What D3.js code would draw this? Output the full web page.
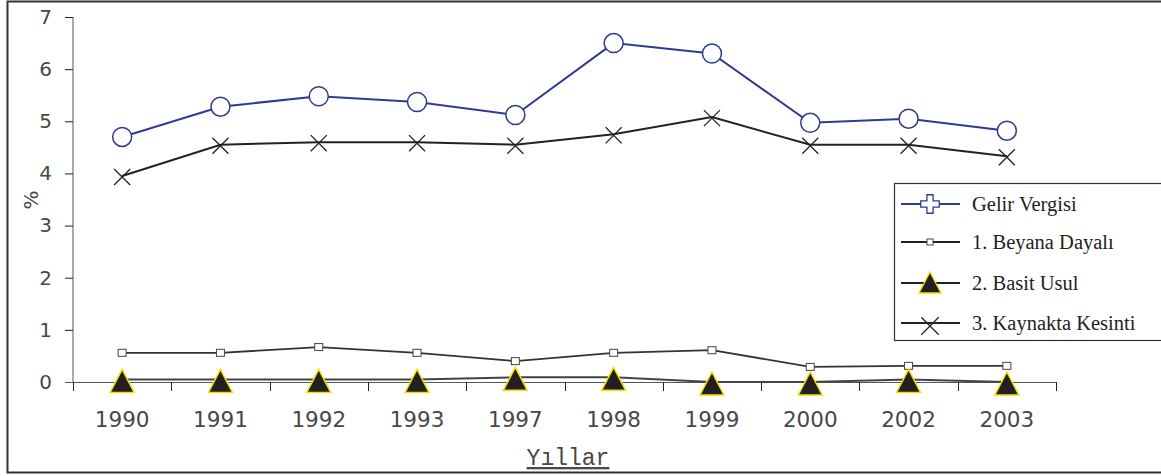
<!DOCTYPE html>
<html>
<head>
<meta charset="utf-8">
<script src="https://cdn.jsdelivr.net/npm/d3@7"></script>
<style>
  html, body { margin: 0; padding: 0; background: #fff; }
  svg { display: block; }
</style>
</head>
<body>
<svg id="chart" width="1161" height="476"></svg>
<script>
// Years on the category axis
const years = ["1990", "1991", "1992", "1993", "1997", "1998", "1999", "2000", "2002", "2003"];
// Series (%)
const gelirVergisi   = [4.70, 5.28, 5.48, 5.37, 5.12, 6.50, 6.30, 4.97, 5.05, 4.82];
const beyanaDayali   = [0.56, 0.56, 0.67, 0.56, 0.40, 0.56, 0.61, 0.29, 0.31, 0.31];
const basitUsul      = [0.05, 0.05, 0.05, 0.05, 0.09, 0.09, 0.00, 0.00, 0.05, 0.00];
const kaynaktaKesinti= [3.95, 4.55, 4.60, 4.60, 4.55, 4.75, 5.08, 4.55, 4.55, 4.33];
const yTicks = [0, 1, 2, 3, 4, 5, 6, 7];
const seriesNames = ["Gelir Vergisi", "1. Beyana Dayalı", "2. Basit Usul", "3. Kaynakta Kesinti"];

const svg = d3.select("#chart");
const axisFont = "DejaVu Sans, sans-serif";
const axisInk = "#484848";

// Frame around the whole chart
svg.append("rect")
  .attr("x", 7.5).attr("y", 1.5)
  .attr("width", 1160).attr("height", 471)
  .attr("fill", "none").attr("stroke", "#333").attr("stroke-width", 2);

const x = d3.scaleBand().domain(years).range([73, 1056]);
const y = d3.scaleLinear().domain([0, 7]).range([382, 17]);
const cx = d => x(d) + x.bandwidth() / 2;

// Y axis
const yAxis = svg.append("g").attr("transform", "translate(73,0)")
  .call(d3.axisLeft(y).tickValues(yTicks).tickSize(8).tickPadding(13).tickFormat(d3.format("d")));
yAxis.select(".domain").attr("stroke", "#aaa").attr("stroke-width", 2).attr("d", "M0,17V382");
yAxis.selectAll(".tick line").attr("stroke", "#222");
yAxis.selectAll(".tick text")
  .attr("font-family", axisFont).attr("font-size", 20).attr("fill", axisInk);

// X axis: labels at band centres, ticks at band boundaries
const xAxis = svg.append("g").attr("transform", "translate(0,382)")
  .call(d3.axisBottom(x).tickSize(0).tickPadding(30));
xAxis.select(".domain").attr("stroke", "#555").attr("stroke-width", 1).attr("d", "M65,0.5H1056");
xAxis.selectAll(".tick text")
  .attr("font-family", axisFont).attr("font-size", 21.5).attr("fill", axisInk);
const bounds = years.map(d => x(d)).concat([x(years[years.length - 1]) + x.bandwidth()]);
svg.append("g").selectAll("line").data(bounds).join("line")
  .attr("x1", d => Math.round(d) + 0.5).attr("x2", d => Math.round(d) + 0.5)
  .attr("y1", 382).attr("y2", 391)
  .attr("stroke", "#222").attr("stroke-width", 1);

// Axis titles
svg.append("text")
  .attr("transform", "translate(38,200) rotate(-90)")
  .attr("text-anchor", "middle")
  .attr("font-family", axisFont).attr("font-size", 20).attr("fill", axisInk)
  .text("%");
svg.append("text")
  .attr("x", 568).attr("y", 465)
  .attr("text-anchor", "middle")
  .attr("font-family", "Liberation Mono, monospace").attr("font-size", 23).attr("fill", axisInk)
  .attr("text-decoration", "underline")
  .text("Yıllar");

const line = d3.line().x((v, i) => cx(years[i])).y(v => y(v));

// Lines
svg.append("path").datum(basitUsul).attr("d", line)
  .attr("fill", "none").attr("stroke", "#444").attr("stroke-width", 2);
svg.append("path").datum(beyanaDayali).attr("d", line)
  .attr("fill", "none").attr("stroke", "#333").attr("stroke-width", 1.8);
svg.append("path").datum(kaynaktaKesinti).attr("d", line)
  .attr("fill", "none").attr("stroke", "#222").attr("stroke-width", 2);
svg.append("path").datum(gelirVergisi).attr("d", line)
  .attr("fill", "none").attr("stroke", "#2f3b93").attr("stroke-width", 2);

// Markers
const tri = (w, up, down) => `M0,${-up}L${w / 2},${down}L${-w / 2},${down}Z`;
const cross = d3.symbol().type(d3.symbolX).size(170);

svg.append("g").selectAll("circle").data(gelirVergisi).join("circle")
  .attr("cx", (v, i) => cx(years[i])).attr("cy", v => y(v)).attr("r", 9.5)
  .attr("fill", "#fff").attr("stroke", "#2f3b93").attr("stroke-width", 1.5);

svg.append("g").selectAll("rect").data(beyanaDayali).join("rect")
  .attr("x", (v, i) => cx(years[i]) - 4).attr("y", v => y(v) - 3.5)
  .attr("width", 8).attr("height", 7)
  .attr("fill", "#fff").attr("stroke", "#444").attr("stroke-width", 1);

svg.append("g").selectAll("path").data(basitUsul).join("path")
  .attr("d", tri(24, 10, 13))
  .attr("transform", (v, i) => `translate(${cx(years[i])},${y(v)})`)
  .attr("fill", "#231f20").attr("stroke", "#f2e000").attr("stroke-width", 1.5);

svg.append("g").selectAll("path").data(kaynaktaKesinti).join("path")
  .attr("d", cross)
  .attr("transform", (v, i) => `translate(${cx(years[i])},${y(v) + 1})`)
  .attr("fill", "none").attr("stroke", "#222").attr("stroke-width", 1.3);

// Legend
const lg = svg.append("g");
lg.append("rect")
  .attr("x", 894.5).attr("y", 183.5).attr("width", 280).attr("height", 157)
  .attr("fill", "#fff").attr("stroke", "#333").attr("stroke-width", 1.2);
const rows = [204, 242, 283, 323];
const lineColors = ["#2f3b93", "#222", "#222", "#222"];
rows.forEach((ry, i) => {
  lg.append("line").attr("x1", 901).attr("x2", 960).attr("y1", ry).attr("y2", ry)
    .attr("stroke", lineColors[i]).attr("stroke-width", 2);
  lg.append("text").attr("x", 972).attr("y", ry + 7)
    .attr("font-family", "Liberation Serif, serif").attr("font-size", 20.5).attr("fill", "#222")
    .text(seriesNames[i]);
});
lg.append("path").attr("d", d3.symbol().type(d3.symbolCross).size(190))
  .attr("transform", `translate(930,${rows[0]})`)
  .attr("fill", "#fff").attr("stroke", "#2f3b93").attr("stroke-width", 1.3);
lg.append("rect").attr("x", 927).attr("y", rows[1] - 3).attr("width", 6).attr("height", 6)
  .attr("fill", "#fff").attr("stroke", "#444").attr("stroke-width", 1);
lg.append("path").attr("d", tri(22, 11, 10))
  .attr("transform", `translate(930,${rows[2]})`)
  .attr("fill", "#231f20").attr("stroke", "#f2e000").attr("stroke-width", 1.3);
lg.append("path").attr("d", d3.symbol().type(d3.symbolX).size(200))
  .attr("transform", `translate(930,${rows[3] + 3})`)
  .attr("fill", "none").attr("stroke", "#222").attr("stroke-width", 1.3);
</script>
</body>
</html>
